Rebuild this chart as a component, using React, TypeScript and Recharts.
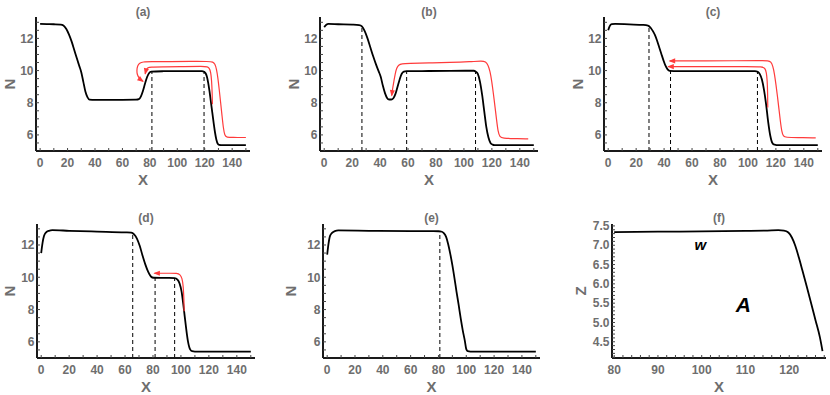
import React from 'react';
import { LineChart, Line, XAxis, YAxis, ReferenceLine, ReferenceDot } from 'recharts';

const FONT = '"Liberation Sans", Arial, Helvetica, sans-serif';
const GRAY = '#6e6e6e';
const RED = '#ff3b3b';

// ---------- Panel (a) ----------
const aBlackX = [0, 5, 10, 15, 17, 19, 21, 23, 25, 27, 28.5, 30, 31.5, 33, 34.5, 36, 40, 50, 60, 70, 72, 73.5, 75, 76.5, 78, 79.5, 81, 90, 100, 110, 118, 119.5, 120.5, 121.5, 122.5, 123.5, 124.5, 125.5, 126.5, 127.5, 128.5, 129.5, 130.5, 132, 140, 150];
const aBlackN = [12.9, 12.89, 12.88, 12.86, 12.8, 12.6, 12.25, 11.8, 11.25, 10.7, 10.3, 9.9, 9.3, 8.7, 8.35, 8.2, 8.18, 8.18, 8.18, 8.19, 8.22, 8.4, 8.75, 9.2, 9.6, 9.85, 9.93, 9.96, 9.97, 9.97, 9.97, 9.93, 9.85, 9.65, 9.25, 8.7, 8.05, 7.4, 6.75, 6.15, 5.7, 5.45, 5.38, 5.37, 5.37, 5.37];
const aRed1X = [150, 140, 136, 134.6, 133.6, 132.6, 131.6, 130.6, 129.6, 128.6, 127.4, 126, 123, 110, 95, 80, 75, 72.5, 71, 70.4, 70.8, 72, 73.5, 75];
const aRed1N = [5.84, 5.84, 5.85, 5.95, 6.4, 7.2, 8.0, 8.8, 9.55, 10.1, 10.42, 10.54, 10.57, 10.57, 10.56, 10.55, 10.54, 10.48, 10.3, 10.0, 9.75, 9.55, 9.42, 9.33];
const aRed2X = [125.6, 125.4, 125.0, 124.4, 123.4, 122, 119, 105, 90, 80, 78.6, 77.6, 77.0, 76.6];
const aRed2N = [7.9, 8.7, 9.4, 9.9, 10.15, 10.24, 10.26, 10.25, 10.23, 10.22, 10.18, 10.08, 9.95, 9.8];
const aDashX = [81.5, 119.5];
const aDashTop = [9.93, 9.97];

// ---------- Panel (b) ----------
const bBlackX = [0, 1.5, 3, 10, 20, 25, 27, 29, 31, 33, 35, 37, 39, 40.5, 42, 43.5, 45, 46.5, 48, 49.5, 51, 52.5, 54, 55.5, 57, 59, 70, 90, 107, 108.5, 110, 111.5, 113, 114.5, 116, 117.5, 119, 120.5, 122, 135, 150];
const bBlackN = [12.7, 12.85, 12.9, 12.88, 12.86, 12.83, 12.75, 12.45, 12.0, 11.45, 10.9, 10.4, 9.95, 9.6, 9.05, 8.6, 8.3, 8.2, 8.2, 8.28, 8.55, 9.0, 9.45, 9.8, 9.93, 9.96, 9.97, 9.98, 9.99, 9.93, 9.78, 9.3, 8.5, 7.5, 6.5, 5.85, 5.5, 5.4, 5.37, 5.37, 5.37];
const bRedX = [146, 135, 128, 125.6, 124.4, 123.4, 122.3, 121.1, 119.9, 118.7, 117.3, 115.5, 113, 105, 90, 75, 60, 55.5, 53.2, 51.8, 50.8, 49.9, 49.0, 48.3];
const bRedN = [5.75, 5.77, 5.8, 5.86, 6.2, 6.9, 7.7, 8.55, 9.35, 9.95, 10.35, 10.55, 10.6, 10.55, 10.5, 10.48, 10.45, 10.43, 10.35, 10.15, 9.8, 9.35, 8.9, 8.45];
const bDashX = [27, 59, 108.3];
const bDashTop = [12.75, 9.96, 9.9];

// ---------- Panel (c) ----------
const cBlackX = [0, 1, 2.5, 5, 15, 25, 28.5, 30.5, 32, 33.5, 35, 36.5, 38, 39.5, 41, 42.5, 44, 50, 80, 105, 107, 108.5, 110, 111.5, 113, 114.5, 116, 117.5, 119, 120.5, 135, 150];
const cBlackN = [12.5, 12.75, 12.88, 12.9, 12.87, 12.84, 12.8, 12.65, 12.45, 12.2, 11.85, 11.45, 11.05, 10.65, 10.3, 10.07, 9.98, 9.96, 9.96, 9.97, 9.93, 9.78, 9.45, 8.8, 7.9, 6.8, 5.95, 5.5, 5.39, 5.37, 5.37, 5.37];
const cRed1X = [148.5, 135, 127, 125.4, 124.2, 123.2, 122.2, 121.2, 120.1, 119, 117.8, 116.4, 114.5, 110, 90, 70, 50, 44];
const cRed1N = [5.82, 5.83, 5.85, 5.9, 6.2, 6.85, 7.6, 8.35, 9.1, 9.8, 10.3, 10.55, 10.62, 10.62, 10.61, 10.6, 10.6, 10.6];
const cRed2X = [114.2, 114.1, 113.8, 113.2, 112.2, 110.5, 100, 80, 60, 43];
const cRed2N = [7.7, 8.6, 9.4, 9.9, 10.15, 10.25, 10.25, 10.25, 10.25, 10.25];
const cDashX = [29.2, 44.6, 106.8];
const cDashTop = [12.8, 9.98, 9.96];

// ---------- Panel (d) ----------
const dBlackX = [0, 1, 2, 3.5, 5.5, 8, 20, 40, 60, 64.5, 66.5, 68.5, 70.5, 72.5, 74.5, 76.5, 78.5, 80.5, 90, 95.5, 97.5, 99, 100.5, 102, 103.5, 105, 106.5, 108, 110, 150];
const dBlackN = [11.5, 12.15, 12.55, 12.78, 12.88, 12.92, 12.88, 12.83, 12.78, 12.76, 12.65, 12.4, 11.95, 11.35, 10.8, 10.35, 10.05, 9.97, 9.96, 9.95, 9.85, 9.62, 9.1, 8.1, 7.0, 6.05, 5.55, 5.42, 5.4, 5.4];
const dRedX = [102.3, 102.1, 101.6, 100.8, 99.4, 97.2, 92, 85, 81];
const dRedN = [7.9, 8.8, 9.5, 9.95, 10.17, 10.25, 10.25, 10.25, 10.25];
const dDashX = [65.5, 81.5, 95.5];
const dDashTop = [12.72, 9.97, 9.95];

// ---------- Panel (e) ----------
const eBlackX = [0, 1, 2, 3.5, 5.5, 8, 30, 60, 80, 82.5, 84, 85.5, 87, 88.5, 90, 91.5, 93, 94.5, 96, 97.5, 99, 100, 101, 103, 150];
const eBlackN = [11.4, 12.1, 12.55, 12.75, 12.86, 12.9, 12.88, 12.86, 12.85, 12.82, 12.72, 12.5, 12.05, 11.45, 10.75, 9.95, 9.1, 8.3, 7.45, 6.7, 6.05, 5.55, 5.42, 5.4, 5.4];
const eDashX = [81];
const eDashTop = [12.84];

// ---------- Panel (f) ----------
const fX = [80, 90, 100, 110, 115, 117.5, 118.8, 119.8, 120.6, 121.4, 122.2, 123, 124, 125, 126, 127, 127.6];
const fZ = [7.34, 7.35, 7.36, 7.37, 7.38, 7.39, 7.38, 7.33, 7.2, 6.98, 6.68, 6.35, 5.93, 5.5, 5.06, 4.62, 4.26];
const fNoteText = ['w', 'A'];
const fNoteX = [99.7, 109.5];
const fNoteZ = [7.03, 5.47];
const fNoteSize = [15, 21];

// ---------- ticks ----------
const range = (a: number, b: number, s: number) => {
  const out: number[] = [];
  for (let i = 0; a + i * s <= b + 1e-9; i++) out.push(Math.round((a + i * s) * 1000) / 1000);
  return out;
};
const xTicksN = range(0, 150, 10);
const xLabelsN = [0, 20, 40, 60, 80, 100, 120, 140];
const yTicksN = range(5.5, 13, 0.5);
const yLabelsN = [6, 8, 10, 12];
const xTicksF = range(80, 128, 2);
const xLabelsF = [80, 90, 100, 110, 120];
const yTicksF = range(4.1, 7.5, 0.1);
const yLabelsF = [4.5, 5.0, 5.5, 6.0, 6.5, 7.0, 7.5];

const pts = (xs: number[], ys: number[]) => xs.map((x, i) => ({ x, y: ys[i] }));

const fmt = (labels: number[], dec: number) => (v: number) =>
  labels.some((l) => Math.abs(l - v) < 1e-6) ? v.toFixed(dec) : '';

const arrowDot = (n: number, fallback: number) => (props: any) => {
  const { cx, cy, index, points } = props;
  if (index !== n - 1 || cx == null || cy == null) return <g key={`d${index}`} />;
  let ang = fallback;
  if (points && points.length > 1 && points[n - 2]) {
    const p = points[n - 2];
    if (p.x != null && p.y != null) ang = (Math.atan2(cy - p.y, cx - p.x) * 180) / Math.PI;
  }
  return (
    <polygon
      key={`d${index}`}
      points="1,0 -5.5,-2.6 -5.5,2.6"
      transform={`translate(${cx},${cy}) rotate(${ang})`}
      fill={RED}
    />
  );
};

type Red = { data: { x: number; y: number }[]; angle: number };
type Note = { x: number; y: number; text: string; size: number };
type Cfg = {
  title: string; left: number; top: number; width: number; height: number;
  mTop: number; mBottom: number; mRight: number; yw: number; ylx: number; titleDy: number;
  xDomain: [number, number]; yDomain: [number, number];
  xTicks: number[]; xLabels: number[]; yTicks: number[]; yLabels: number[]; xDec: number; yDec: number;
  yName: string; black: { x: number; y: number }[]; reds: Red[]; dashX: number[]; dashTop: number[];
  notes: Note[];
};

const xLabelContent = (props: any) => {
  const vb = props && props.viewBox;
  if (!vb) return null;
  return (
    <text x={vb.x + vb.width / 2} y={vb.y + vb.height} textAnchor="middle" fill={GRAY} fontSize={15} fontWeight={700} fontFamily={FONT}>
      X
    </text>
  );
};

const yLabelContent = (name: string, dx: number) => (props: any) => {
  const vb = props && props.viewBox;
  if (!vb) return null;
  const cx = vb.x + dx;
  const cy = vb.y + vb.height / 2;
  return (
    <text x={cx} y={cy} transform={`rotate(-90 ${cx} ${cy})`} textAnchor="middle" dominantBaseline="central" fill={GRAY} fontSize={15} fontWeight={700} fontFamily={FONT}>
      {name}
    </text>
  );
};

const noteContent = (text: string, size: number) => (props: any) => {
  const vb = props && props.viewBox;
  if (!vb) return null;
  const cx = vb.x + (vb.width || 0) / 2;
  const cy = vb.y + (vb.height || 0) / 2;
  return (
    <text x={cx} y={cy} textAnchor="middle" dominantBaseline="central" fill="#000" fontSize={size} fontWeight={700} fontStyle="italic" fontFamily={FONT}>
      {text}
    </text>
  );
};

function Panel({ c }: { c: Cfg }) {
  const plotL = c.yw;
  const plotR = c.width - c.mRight;
  const tickStyle = { fill: GRAY, fontSize: 12, fontWeight: 700, fontFamily: FONT };
  return (
    <div style={{ position: 'absolute', left: c.left, top: c.top, width: c.width, height: c.height }}>
      <div
        style={{
          position: 'absolute', left: (plotL + plotR) / 2, top: c.mTop + c.titleDy,
          transform: 'translate(-50%, -50%)', fontFamily: FONT, fontWeight: 700, fontSize: 12,
          color: GRAY, whiteSpace: 'nowrap', lineHeight: 1,
        }}
      >
        {c.title}
      </div>
      <LineChart width={c.width} height={c.height} margin={{ top: c.mTop, right: c.mRight, bottom: c.mBottom, left: 0 }}>
        <XAxis
          type="number" dataKey="x" domain={c.xDomain} allowDataOverflow ticks={c.xTicks} interval={0}
          tickFormatter={fmt(c.xLabels, c.xDec)} tickSize={-3} tickMargin={10} height={34}
          axisLine={{ stroke: '#1a1a1a', strokeWidth: 2 }} tickLine={{ stroke: '#444', strokeWidth: 1 }}
          tick={tickStyle} label={xLabelContent}
        />
        <YAxis
          type="number" domain={c.yDomain} allowDataOverflow ticks={c.yTicks} interval={0}
          tickFormatter={fmt(c.yLabels, c.yDec)} tickSize={-3} tickMargin={5.5} width={c.yw}
          axisLine={{ stroke: '#1a1a1a', strokeWidth: 2 }} tickLine={{ stroke: '#444', strokeWidth: 1 }}
          tick={tickStyle} label={yLabelContent(c.yName, c.ylx)}
        />
        {c.dashX.map((x, i) => (
          <ReferenceLine
            key={`dash${i}`}
            segment={[{ x, y: c.yDomain[0] }, { x, y: c.dashTop[i] }]}
            stroke="#000" strokeWidth={1} strokeDasharray="4 3"
          />
        ))}
        <Line data={c.black} dataKey="y" type="monotone" stroke="#000" strokeWidth={1.8} dot={false} activeDot={false} isAnimationActive={false} />
        {c.reds.map((r, i) => (
          <Line
            key={`red${i}`} data={r.data} dataKey="y" type="basis" stroke={RED} strokeWidth={1.2}
            dot={arrowDot(r.data.length, r.angle)} activeDot={false} isAnimationActive={false}
          />
        ))}
        {c.notes.map((n, i) => (
          <ReferenceDot key={`note${i}`} x={n.x} y={n.y} r={0} fill="none" stroke="none" label={noteContent(n.text, n.size)} />
        ))}
      </LineChart>
    </div>
  );
}

const topRow = { top: 0, height: 195, mTop: 17, mBottom: 10, titleDy: -5 };
const botRow = { top: 195, height: 200, mTop: 29, mBottom: 3, titleDy: -6 };
const nAxes = {
  xDomain: [-3, 153] as [number, number], yDomain: [5, 13.33] as [number, number],
  xTicks: xTicksN, xLabels: xLabelsN, yTicks: yTicksN, yLabels: yLabelsN, xDec: 0, yDec: 0, yName: 'N',
  notes: [] as Note[],
};

const panels: Cfg[] = [
  { ...topRow, ...nAxes, title: '(a)', left: 0, width: 275, mRight: 25, yw: 36, ylx: 9,
    black: pts(aBlackX, aBlackN),
    reds: [{ data: pts(aRed1X, aRed1N), angle: 35 }, { data: pts(aRed2X, aRed2N), angle: 103 }],
    dashX: aDashX, dashTop: aDashTop },
  { ...topRow, ...nAxes, title: '(b)', left: 275, width: 280, mRight: 17, yw: 45, ylx: 18,
    black: pts(bBlackX, bBlackN), reds: [{ data: pts(bRedX, bRedN), angle: 98 }],
    dashX: bDashX, dashTop: bDashTop },
  { ...topRow, ...nAxes, title: '(c)', left: 555, width: 275, mRight: 8, yw: 49, ylx: 22,
    black: pts(cBlackX, cBlackN),
    reds: [{ data: pts(cRed1X, cRed1N), angle: 180 }, { data: pts(cRed2X, cRed2N), angle: 180 }],
    dashX: cDashX, dashTop: cDashTop },
  { ...botRow, ...nAxes, yDomain: [5, 13.3], title: '(d)', left: 0, width: 275, mRight: 20, yw: 37, ylx: 9,
    black: pts(dBlackX, dBlackN), reds: [{ data: pts(dRedX, dRedN), angle: 180 }],
    dashX: dDashX, dashTop: dDashTop },
  { ...botRow, ...nAxes, yDomain: [5, 13.3], title: '(e)', left: 275, width: 280, mRight: 15, yw: 48, ylx: 15,
    black: pts(eBlackX, eBlackN), reds: [], dashX: eDashX, dashTop: eDashTop },
  { ...botRow, title: '(f)', left: 555, width: 275, mRight: 4, yw: 57, ylx: 25,
    xDomain: [79.5, 128.4], yDomain: [4.08, 7.55],
    xTicks: xTicksF, xLabels: xLabelsF, yTicks: yTicksF, yLabels: yLabelsF, xDec: 0, yDec: 1, yName: 'Z',
    black: pts(fX, fZ), reds: [], dashX: [], dashTop: [],
    notes: fNoteText.map((t, i) => ({ x: fNoteX[i], y: fNoteZ[i], text: t, size: fNoteSize[i] })) },
];

export default function App() {
  return (
    <div style={{ position: 'absolute', left: 0, top: 0, width: 830, height: 395, background: '#fff', overflow: 'hidden' }}>
      {panels.map((p, i) => (
        <Panel key={i} c={p} />
      ))}
    </div>
  );
}
